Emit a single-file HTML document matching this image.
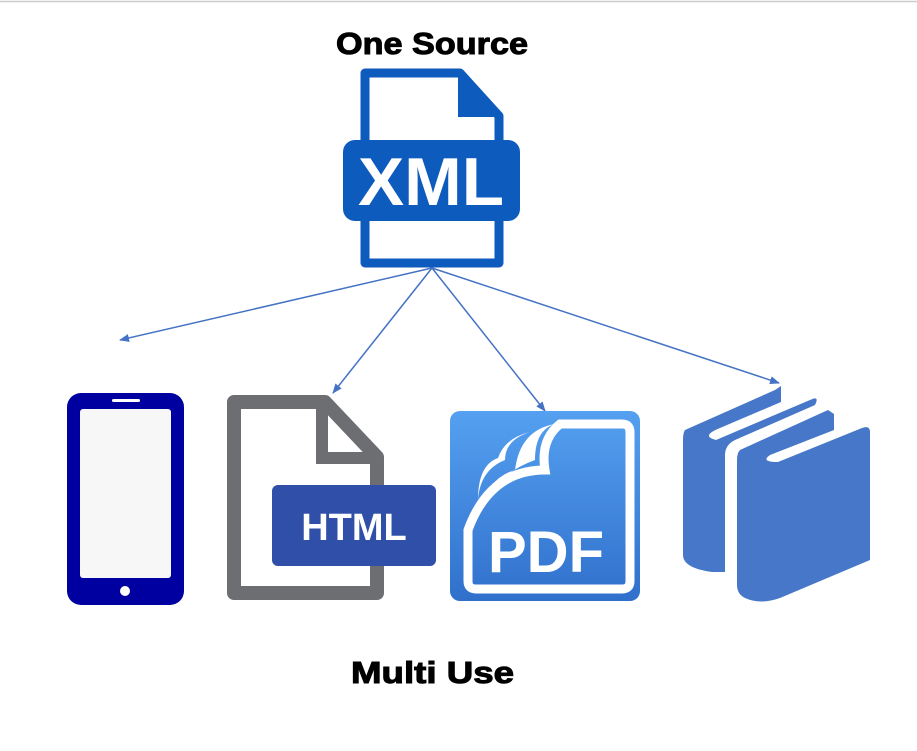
<!DOCTYPE html>
<html><head><style>
body{margin:0;background:#fff;width:917px;height:746px;overflow:hidden}
</style></head><body>
<svg width="917" height="746" viewBox="0 0 917 746" xmlns="http://www.w3.org/2000/svg">
<defs>
<linearGradient id="pg" x1="0" y1="0" x2="0" y2="1"><stop offset="0" stop-color="#55a0f0"/><stop offset="1" stop-color="#3070cc"/></linearGradient>
<marker id="ar" markerWidth="10" markerHeight="8" refX="9" refY="4" orient="auto" markerUnits="userSpaceOnUse"><path d="M0,0 L10,4 L0,8 Z" fill="#4472c4"/></marker>
</defs>
<line x1="0" y1="1.5" x2="917" y2="1.5" stroke="#ccc" stroke-width="1.5"/>
<text x="336" y="54" font-family="Liberation Sans, sans-serif" font-weight="bold" font-size="31" fill="#000" stroke="#000" stroke-width="1" textLength="192" lengthAdjust="spacingAndGlyphs">One Source</text>
<text x="351" y="683" font-family="Liberation Sans, sans-serif" font-weight="bold" font-size="31" fill="#000" stroke="#000" stroke-width="1" textLength="163" lengthAdjust="spacingAndGlyphs">Multi Use</text>
<!-- XML -->
<path d="M365,73 H460 L499,116 V263 H365 Z" fill="#fff" stroke="#0c5bbd" stroke-width="9" stroke-linejoin="round"/>
<path d="M458,71 V117 H501 Z" fill="#0c5bbd"/>
<rect x="343" y="140" width="177" height="81" rx="12" fill="#0c5bbd"/>
<text x="431" y="205" text-anchor="middle" font-family="Liberation Sans, sans-serif" font-weight="bold" font-size="68" textLength="146" lengthAdjust="spacingAndGlyphs" fill="#fff">XML</text>
<!-- arrows -->
<g stroke="#4472c4" stroke-width="1.5" fill="none">
<line x1="432" y1="268" x2="120" y2="340" marker-end="url(#ar)"/>
<line x1="432" y1="268" x2="333" y2="393" marker-end="url(#ar)"/>
<line x1="432" y1="268" x2="545" y2="411" marker-end="url(#ar)"/>
<line x1="432" y1="268" x2="779" y2="383" marker-end="url(#ar)"/>
</g>
<!-- phone -->
<rect x="67" y="393" width="117" height="212" rx="14" fill="#0000a0"/>
<rect x="80" y="409" width="91" height="169" rx="3" fill="#f7f7f7"/>
<rect x="112" y="399" width="28" height="3" rx="1.5" fill="#fff"/>
<circle cx="125" cy="591" r="5" fill="#fff"/>
<!-- HTML -->
<path d="M234,402 H325 L377,457 V593 H234 Z" fill="#fff" stroke="#6d6e71" stroke-width="14" stroke-linejoin="round"/>
<path d="M322,400 V458 H380" fill="none" stroke="#6d6e71" stroke-width="12"/>
<rect x="272" y="485" width="164" height="81" rx="6" fill="#2f4fa8"/>
<text x="354" y="540" text-anchor="middle" font-family="Liberation Sans, sans-serif" font-weight="bold" font-size="38" fill="#fff">HTML</text>
<!-- PDF -->
<rect x="450" y="411" width="190" height="190" rx="10" fill="url(#pg)"/>
<path d="M560,424 H622 Q630,424 630,432 V581 Q630,589 622,589 H476 Q468,589 468,581 V530 Q490,470 545,470 Q540,440 560,424 Z" fill="none" stroke="#fff" stroke-width="9"/>
<path d="M470,540 Q480,480 535,460 Q535,430 555,424 Q520,430 515,470 Q480,480 470,540 Z" fill="#fff"/>
<path d="M478,500 Q480,470 505,460 Q505,440 530,432 Q505,438 498,458 Q478,465 478,500 Z" fill="#fff"/>
<text x="546" y="572" text-anchor="middle" font-family="Liberation Sans, sans-serif" font-weight="bold" font-size="58" fill="#fff">PDF</text>
<!-- books -->
<path d="M685,430 L775,390 L781,386 L781,402 L720,428 Q700,436 716,440 L810,400 Q820,395 815,405 L735,440 Q725,445 725,455 V572 H712 Q683,568 683,555 V440 Q683,433 685,430 Z" fill="#4677c8"/>
<path d="M740,450 L828,410 L834,414 L834,430 L770,455 Q760,462 778,462 L862,428 Q870,425 870,432 V560 L780,598 Q760,605 745,598 Q737,594 737,585 V460 Q737,453 740,450 Z" fill="#4677c8"/>
</svg>
</body></html>
